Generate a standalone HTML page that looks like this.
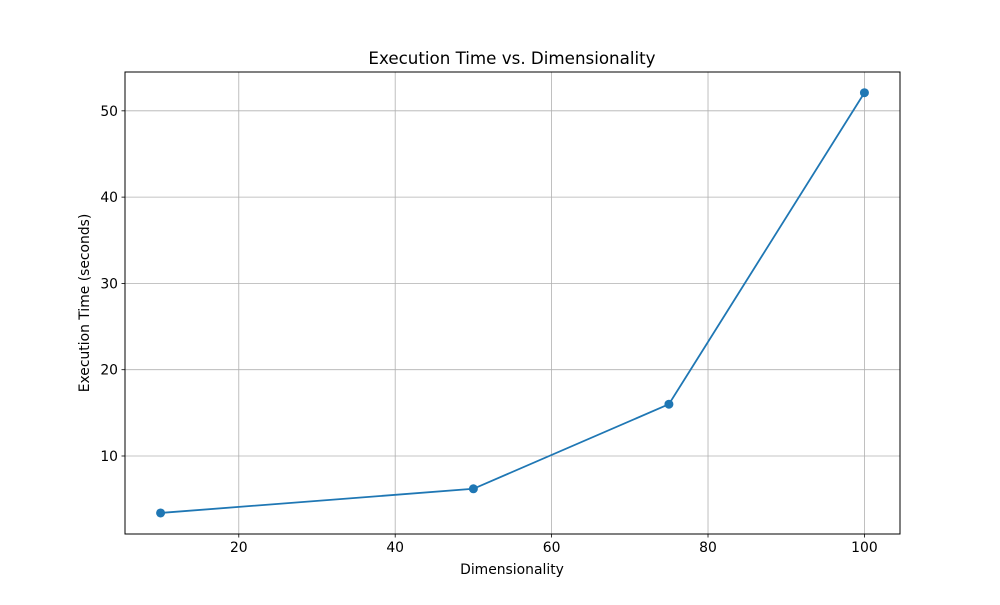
<!DOCTYPE html>
<html><head><meta charset="utf-8"><style>
body{margin:0;background:#fff;}
svg text{font-family:"DejaVu Sans","Liberation Sans",sans-serif;fill:#000;}
</style></head><body>
<svg id="chart" width="1000" height="600" xmlns="http://www.w3.org/2000/svg">
<rect width="1000" height="600" fill="#fff"/>
<g id="grid"></g>
<g id="series"></g>
<rect x="125" y="72" width="775" height="462" fill="none" stroke="#000" stroke-width="1"/>
<g id="ticks"></g>
<text x="512" y="64" font-size="16.7" text-anchor="middle">Execution Time vs. Dimensionality</text>
<text x="512" y="574" font-size="13.9" text-anchor="middle">Dimensionality</text>
<text transform="translate(89,303) rotate(-90)" font-size="13.9" text-anchor="middle">Execution Time (seconds)</text>
</svg>
<script>
const dims=[10,50,75,100];
const times=[3.4,6.2,16.0,52.1];
const xTicks=[20,40,60,80,100];
const yTicks=[10,20,30,40,50];
const L=125,R=900,T=72,B=534;
const xMin=5.45,xMax=104.55,yMin=0.96,yMax=54.5;
function sx(v){return L+(v-xMin)/(xMax-xMin)*(R-L);}
function sy(v){return B-(v-yMin)/(yMax-yMin)*(B-T);}
const NS="http://www.w3.org/2000/svg";
function mk(tag,attrs,parent){const e=document.createElementNS(NS,tag);for(const k in attrs)e.setAttribute(k,attrs[k]);parent.appendChild(e);return e;}
const grid=document.getElementById('grid'),ticks=document.getElementById('ticks'),ser=document.getElementById('series');
xTicks.forEach(v=>{const x=sx(v);
 const g=mk('line',{x1:x,x2:x,y1:T,y2:B,stroke:'#b0b0b0','stroke-width':0.8},grid);
 
 
 const t=mk('line',{x1:x,x2:x,y1:B,y2:B+3.5,stroke:'#000','stroke-width':0.8},ticks);
 
 
 const l=mk('text',{x:x,y:B+18,'font-size':13.9,'text-anchor':'middle'},ticks);l.textContent=v;
 
 
});
yTicks.forEach(v=>{const y=sy(v);
 const g=mk('line',{x1:L,x2:R,y1:y,y2:y,stroke:'#b0b0b0','stroke-width':0.8},grid);
 
 
 const t=mk('line',{x1:L-3.5,x2:L,y1:y,y2:y,stroke:'#000','stroke-width':0.8},ticks);
 
 
 const l=mk('text',{x:L-7,y:y+5,'font-size':13.9,'text-anchor':'end'},ticks);l.textContent=v;
 
 
});
const pts=dims.map((d,i)=>sx(d)+','+sy(times[i])).join(' ');
const pl=mk('polyline',{points:pts,fill:'none',stroke:'#1f77b4','stroke-width':1.8},ser);


dims.forEach((d,i)=>{const c=mk('circle',{cx:sx(d),cy:sy(times[i]),r:4.5,fill:'#1f77b4'},ser);
 
 
});
</script>
</body></html>
